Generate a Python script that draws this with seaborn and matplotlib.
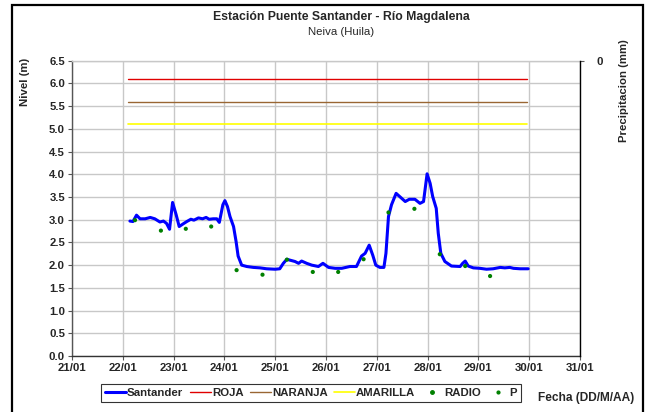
import matplotlib
matplotlib.use("Agg")
import matplotlib.pyplot as plt
import seaborn as sns
import pandas as pd
from matplotlib.patches import Rectangle
from matplotlib.lines import Line2D

# --- data (x = day of January, y = level in m) ---
santander_dia = [22.14, 22.20, 22.27, 22.34, 22.44, 22.54, 22.63, 22.73, 22.80, 22.86,
                 22.92, 22.98, 23.05, 23.11, 23.19, 23.26, 23.34, 23.40, 23.49, 23.57,
                 23.64, 23.70, 23.78, 23.85, 23.90, 23.97, 24.01, 24.06, 24.11, 24.18,
                 24.23, 24.27, 24.34, 24.44, 24.57, 24.70, 24.83, 25.00, 25.09, 25.16,
                 25.23, 25.29, 25.39, 25.46, 25.52, 25.62, 25.72, 25.85, 25.94, 26.05,
                 26.18, 26.31, 26.47, 26.60, 26.70, 26.77, 26.85, 26.92, 26.98, 27.06,
                 27.14, 27.18, 27.23, 27.29, 27.38, 27.46, 27.56, 27.64, 27.75, 27.85,
                 27.92, 27.99, 28.05, 28.10, 28.17, 28.21, 28.26, 28.34, 28.47, 28.64,
                 28.69, 28.74, 28.80, 28.90, 29.03, 29.16, 29.29, 29.43, 29.52, 29.62,
                 29.69, 29.82, 29.98]
santander_nivel = [2.97, 2.96, 3.10, 3.02, 3.02, 3.05, 3.02, 2.95, 2.97, 2.92,
                   2.79, 3.38, 3.11, 2.85, 2.91, 2.96, 3.01, 2.99, 3.04, 3.02,
                   3.05, 3.01, 3.02, 3.02, 2.94, 3.33, 3.42, 3.29, 3.07, 2.85,
                   2.52, 2.20, 2.00, 1.97, 1.95, 1.94, 1.92, 1.91, 1.92, 2.04,
                   2.13, 2.11, 2.08, 2.04, 2.09, 2.04, 2.00, 1.97, 2.04, 1.95,
                   1.93, 1.93, 1.97, 1.97, 2.20, 2.26, 2.44, 2.22, 2.00, 1.95,
                   1.95, 2.26, 3.07, 3.33, 3.58, 3.50, 3.40, 3.45, 3.45, 3.36,
                   3.40, 4.01, 3.80, 3.51, 3.25, 2.70, 2.26, 2.08, 1.98, 1.97,
                   2.04, 2.09, 1.98, 1.94, 1.93, 1.91, 1.92, 1.95, 1.94, 1.95,
                   1.93, 1.92, 1.92]

radio_dia = [22.24, 22.75, 23.24, 23.74, 24.24, 24.75, 25.23, 25.74, 26.24, 26.74,
             27.23, 27.74, 28.24, 28.74, 29.23]
radio_nivel = [2.99, 2.76, 2.80, 2.85, 1.89, 1.79, 2.12, 1.85, 1.85, 2.13,
               3.16, 3.24, 2.24, 1.98, 1.76]

umbral_dia = [22.1, 29.95]
roja = [6.1, 6.1]
naranja = [5.6, 5.6]
amarilla = [5.1, 5.1]

dias = list(range(21, 32))
etiquetas_dias = [f"{d}/01" for d in dias]

C_SANT = "#0000FF"
C_ROJA = "#E00000"
C_NARANJA = "#996633"
C_AMARILLA = "#FFFF00"
C_RADIO = "#008000"

sns.set_theme(style="white")
plt.rcParams["font.family"] = ["Liberation Sans", "DejaVu Sans"]

fig = plt.figure(figsize=(6.45, 4.12), dpi=100)
ax = fig.add_axes([72 / 645, 1 - 356 / 412, (580 - 72) / 645, (356 - 60.7) / 412])

df_s = pd.DataFrame({"dia": santander_dia, "nivel": santander_nivel})
df_r = pd.DataFrame({"dia": radio_dia, "nivel": radio_nivel})

sns.lineplot(x=umbral_dia, y=roja, ax=ax, color=C_ROJA, lw=1.0)
sns.lineplot(x=umbral_dia, y=naranja, ax=ax, color=C_NARANJA, lw=1.0)
sns.lineplot(x=umbral_dia, y=amarilla, ax=ax, color=C_AMARILLA, lw=1.2)
sns.lineplot(data=df_s, x="dia", y="nivel", ax=ax, color=C_SANT, lw=2.2, zorder=4)
sns.scatterplot(data=df_r, x="dia", y="nivel", ax=ax, color=C_RADIO, s=9,
                edgecolor="none", zorder=5)

ax.set_xlim(21, 31)
ax.set_ylim(0, 6.5)
ax.set_xticks(dias)
ax.set_xticklabels(etiquetas_dias)
ax.set_yticks([i * 0.5 for i in range(14)])
ax.set_yticklabels([f"{i * 0.5:.1f}" for i in range(14)])
ax.set_xlabel("")
ax.set_ylabel("")
ax.grid(True, color="#C8C8C8", lw=1.0)
ax.set_axisbelow(True)
ax.tick_params(axis="both", labelsize=8.2, length=3, width=0.8, color="#555555",
               pad=2, bottom=True, left=True)
for lab in ax.get_xticklabels() + ax.get_yticklabels():
    lab.set_fontweight("bold")
ax.spines["top"].set_color("#C8C8C8")
ax.spines["left"].set_color("#555555")
ax.spines["bottom"].set_color("#333333")
ax.spines["right"].set_visible(False)
for sp in ax.spines.values():
    sp.set_linewidth(1.0)

# precipitation axis (inverted, empty)
ax2 = ax.twinx()
ax2.set_ylim(10, 0)
ax2.set_yticks([0])
ax2.set_yticklabels(["0"])
ax2.tick_params(axis="y", labelsize=8.2, length=3, width=0.8, color="#555555", pad=9, right=True)
for lab in ax2.get_yticklabels():
    lab.set_fontweight("bold")
ax2.spines["right"].set_color("black")
ax2.spines["right"].set_linewidth(1.0)
for s in ["top", "left", "bottom"]:
    ax2.spines[s].set_visible(False)
ax2.grid(False)

fig.text(341 / 645, 1 - 17 / 412, "Estación Puente Santander - Río Magdalena",
         ha="center", va="center", fontsize=8.8, fontweight="bold")
fig.text(341 / 645, 1 - 32 / 412, "Neiva (Huila)", ha="center", va="center", fontsize=8.2)
fig.text(25 / 645, 1 - 82 / 412, "Nivel (m)", rotation=90, ha="center", va="center",
         fontsize=8.2, fontweight="bold")
fig.text(624 / 645, 1 - 91 / 412, "Precipitacion (mm)", rotation=90, ha="center",
         va="center", fontsize=8.2, fontweight="bold")
fig.text(586 / 645, 1 - 398 / 412, "Fecha (DD/M/AA)", ha="center", va="center",
         fontsize=8.6, fontweight="bold")

handles = [
    Line2D([], [], color=C_SANT, lw=2.2),
    Line2D([], [], color=C_ROJA, lw=1.0),
    Line2D([], [], color=C_NARANJA, lw=1.0),
    Line2D([], [], color=C_AMARILLA, lw=1.2),
    Line2D([], [], color=C_RADIO, marker="o", ls="none", ms=2.5),
    Line2D([], [], color=C_RADIO, marker="o", ls="none", ms=2.0),
]
labels = ["Santander", "ROJA", "NARANJA", "AMARILLA", "RADIO", "P"]
leg = fig.legend(handles, labels, loc="center", bbox_to_anchor=(311 / 645, 1 - 393 / 412),
                 ncol=6, frameon=True, fancybox=False, handlelength=1.8,
                 handletextpad=0.1, columnspacing=0.6, borderpad=0.35,
                 prop={"size": 8.2, "weight": "bold"})
leg.get_frame().set_edgecolor("black")
leg.get_frame().set_linewidth(0.8)

# outer chart frame
fig.patches.append(Rectangle((12 / 645, -0.01), (643 - 12) / 645, 1 - 5 / 412 + 0.01,
                             transform=fig.transFigure, fill=False, edgecolor="black",
                             lw=1.6))

fig.savefig("out.png", dpi=100)
